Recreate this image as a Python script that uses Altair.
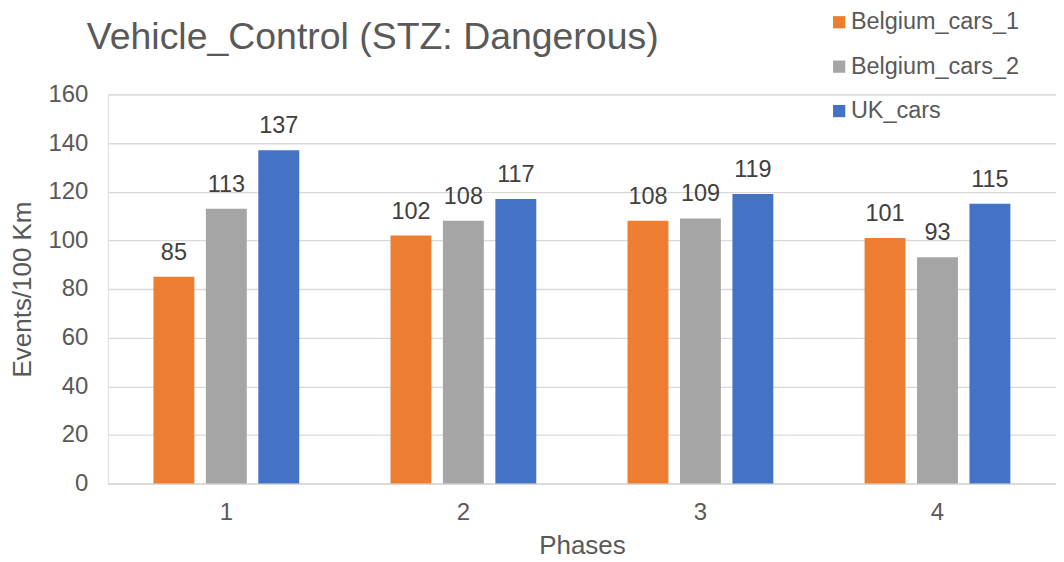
import altair as alt
import pandas as pd

phases = ["1", "2", "3", "4"]
series = ["Belgium_cars_1", "Belgium_cars_2", "UK_cars"]
belgium_1 = [85, 102, 108, 101]
belgium_2 = [113, 108, 109, 93]
uk_cars = [137, 117, 119, 115]
colors = ["#ED7D31", "#A5A5A5", "#4472C4"]
title_text = ["Vehicle_Control (STZ: Dangerous)"]

rows = []
for i, p in enumerate(phases):
    for s, vals in zip(series, [belgium_1, belgium_2, uk_cars]):
        rows.append({"Phase": p, "Series": s, "Value": vals[i]})
df = pd.DataFrame(rows)

FONT = "Liberation Sans"

base = alt.Chart(df).encode(
    x=alt.X("Phase:N", sort=phases, title="Phases",
            scale=alt.Scale(paddingInner=0.385, paddingOuter=0.1925),
            axis=alt.Axis(labelAngle=0, labelFontSize=24, labelColor="#595959",
                          labelFont=FONT, labelPadding=17, ticks=False,
                          domainColor="#D9D9D9", domainWidth=1.5,
                          titleFontSize=26, titleColor="#595959", titleFont=FONT,
                          titleFontWeight="normal", titlePadding=8)),
    xOffset=alt.XOffset("Series:N", sort=series,
                        scale=alt.Scale(paddingInner=0.22, paddingOuter=0)),
)

bars = base.mark_bar().encode(
    y=alt.Y("Value:Q", title="Events/100 Km",
            scale=alt.Scale(domain=[0, 160]),
            axis=alt.Axis(values=list(range(0, 161, 20)), labelFontSize=24,
                          labelColor="#595959", labelFont=FONT, labelPadding=20,
                          ticks=False, domain=False, gridColor="#D9D9D9",
                          gridWidth=1.3, titleFontSize=26, titleColor="#595959",
                          titleFont=FONT, titleFontWeight="normal", titlePadding=12)),
    color=alt.Color("Series:N", sort=series,
                    scale=alt.Scale(domain=series, range=colors),
                    legend=alt.Legend(title=None, orient="none", legendX=721, legendY=-84,
                                      symbolType="square", symbolSize=150,
                                      symbolStrokeWidth=0, labelFontSize=23.5,
                                      labelColor="#595959", labelFont=FONT,
                                      labelLimit=400, rowPadding=19.5, labelOffset=0)),
)

labels = base.mark_text(fontSize=23.5, font=FONT, color="#404040", baseline="alphabetic", dy=-17).encode(
    y=alt.Y("Value:Q"),
    text=alt.Text("Value:Q"),
)

title = alt.Chart(pd.DataFrame({"t": title_text})).mark_text(
    fontSize=37.5, font=FONT, color="#595959", align="left", baseline="alphabetic"
).encode(x=alt.value(-21), y=alt.value(-45), text="t:N")

chart = alt.layer(bars, labels, title).properties(
    width=950, height=390,
    autosize=alt.AutoSizeParams(type="none"),
    padding={"left": 100, "top": 86, "right": 0, "bottom": 76},
).configure_view(stroke=None).configure(background="white")

chart.save("out.html", embed_options={"renderer": "svg", "actions": False})
